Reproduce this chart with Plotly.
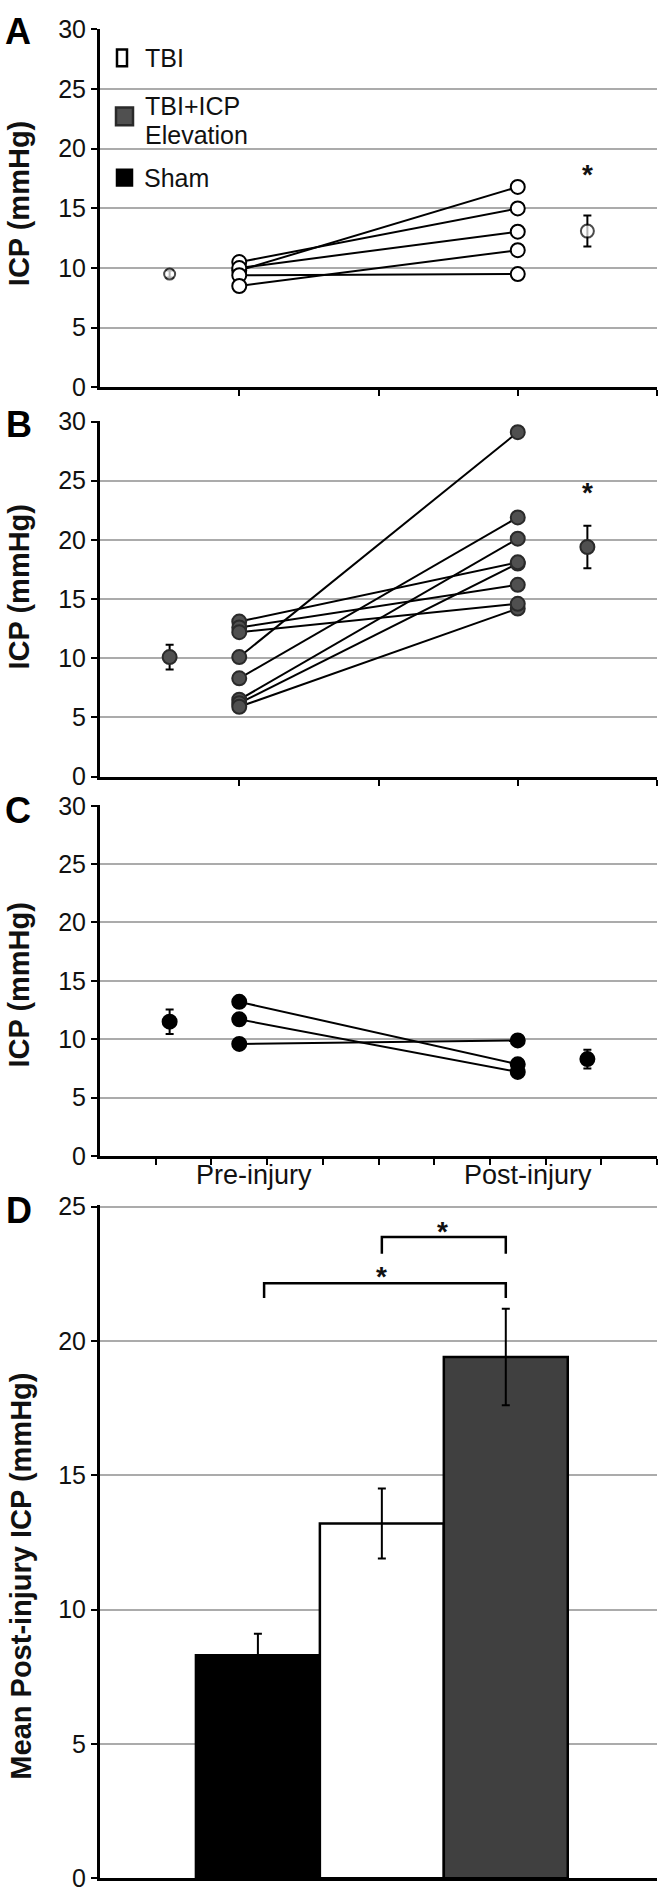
import plotly.graph_objects as go

W, H = 662, 1902
FONT = "Liberation Sans, Arial, Helvetica, sans-serif"

# ---------------- data ----------------
# Panel A : TBI (individual animals, pre -> post injury)
a_pre = [9.8, 10.5, 10.0, 9.4, 8.5]
a_post = [16.8, 15.0, 13.05, 9.5, 11.5]
a_mean = [9.5, 13.1]          # group means (pre, post)
a_sem = [0.3, 1.3]

# Panel B : TBI + ICP elevation
b_pre = [10.1, 8.3, 6.5, 6.2, 5.9, 13.1, 12.6, 12.2]
b_post = [29.1, 21.9, 20.1, 18.0, 14.2, 18.1, 16.2, 14.6]
b_mean = [10.1, 19.4]
b_sem = [1.05, 1.8]

# Panel C : Sham
c_pre = [13.2, 11.7, 9.6]
c_post = [7.85, 7.2, 9.9]
c_mean = [11.5, 8.3]
c_sem = [1.05, 0.8]

# Panel D : mean post-injury ICP
d_groups = ["Sham", "TBI", "TBI+ICP Elevation"]
d_mean = [8.3, 13.2, 19.4]
d_sem = [0.8, 1.3, 1.8]

x_labels = ["Pre-injury", "Post-injury"]
legend_labels = ["TBI", "TBI+ICP", "Elevation", "Sham"]

# ---------------- geometry / style ----------------
PRE_X, POST_X = 1, 3
MEAN_X = [0.5, 3.5]
X0, X1 = 100, 657
panels_px = {"A": (15, 379), "B": (413, 774), "C": (803, 1159), "D": (1209, 1892)}

GRAY_B = "#505050"
GRAY_D = "#404040"
GRID = "#ababab"


def ydom(top, bot):
    return [1 - bot / H, 1 - top / H]


def px(x):
    return x / W


def py(y):
    return 1 - y / H


fig = go.Figure()


def add_panel(idx, pre, post, mean, sem, fill, edge, msize=14):
    xa = "x" if idx == 1 else f"x{idx}"
    ya = "y" if idx == 1 else f"y{idx}"
    lx, ly = [], []
    for p, q in zip(pre, post):
        lx += [PRE_X, POST_X, None]
        ly += [p, q, None]
    fig.add_trace(go.Scatter(x=lx, y=ly, mode="lines", xaxis=xa, yaxis=ya,
                             line=dict(color="black", width=2), showlegend=False,
                             hoverinfo="skip"))
    fig.add_trace(go.Scatter(x=[PRE_X] * len(pre) + [POST_X] * len(post), y=list(pre) + list(post),
                             mode="markers", xaxis=xa, yaxis=ya, showlegend=False,
                             marker=dict(symbol="circle", size=msize, color=fill,
                                         line=dict(color=edge, width=2))))
    fig.add_trace(go.Scatter(x=MEAN_X, y=mean, mode="markers", xaxis=xa, yaxis=ya, showlegend=False,
                             error_y=dict(type="data", array=sem, color="black", thickness=2, width=4),
                             marker=dict(symbol="circle", size=[11, 13] if fill == "white" else 14,
                                         color=fill, line=dict(color=edge, width=2))))


add_panel(1, a_pre, a_post, a_mean, a_sem, "white", "black")
add_panel(2, b_pre, b_post, b_mean, b_sem, GRAY_B, "#2a2a2a")
add_panel(3, c_pre, c_post, c_mean, c_sem, "black", "black")

fig.add_trace(go.Bar(x=[1, 2, 3], y=d_mean, width=1, xaxis="x4", yaxis="y4", showlegend=False,
                     text=d_groups, textposition="none", hoverinfo="text+y",
                     marker=dict(color=["black", "white", GRAY_D], line=dict(color="black", width=2.5)),
                     error_y=dict(type="data", array=d_sem, color="black", thickness=2, width=4)))

tickfont = dict(family=FONT, size=25, color="#111")
common_y = dict(showgrid=True, gridcolor=GRID, gridwidth=2, zeroline=False, showline=True,
                linecolor="black", linewidth=3, ticks="outside", ticklen=6, tickwidth=2,
                tickcolor="black", tickfont=tickfont, dtick=5, fixedrange=True)
common_x = dict(showgrid=False, zeroline=False, showline=True, linecolor="black", linewidth=3,
                ticks="outside", ticklen=6, tickwidth=2, tickcolor="black", showticklabels=False,
                fixedrange=True)

layout = dict(width=W, height=H, autosize=False, margin=dict(l=0, r=0, t=0, b=0),
              paper_bgcolor="white", plot_bgcolor="white", showlegend=False,
              font=dict(family=FONT, color="#111"))
for i, key in enumerate(["A", "B", "C", "D"], start=1):
    top, bot = panels_px[key]
    xn = "xaxis" if i == 1 else f"xaxis{i}"
    yn = "yaxis" if i == 1 else f"yaxis{i}"
    ya_anchor = "x" if i == 1 else f"x{i}"
    xa_anchor = "y" if i == 1 else f"y{i}"
    xd = dict(common_x, domain=[px(X0), px(X1)], anchor=xa_anchor)
    yd = dict(common_y, domain=ydom(top, bot), anchor=ya_anchor)
    if key == "D":
        xd.update(range=[-0.274, 4.22], ticks="")
        yd.update(range=[0, 25.05], tickvals=[0, 5, 10, 15, 20, 25])
    else:
        xd.update(range=[0, 4])
        yd.update(range=[0, 30.05], tickvals=[0, 5, 10, 15, 20, 25, 30])
        if key == "C":
            xd.update(tickvals=[0.4 * k for k in range(1, 11)])
        else:
            xd.update(tickvals=[1, 2, 3, 4])
    layout[xn] = xd
    layout[yn] = yd
fig.update_layout(**layout)

ann = []
# panel letters
for key, (xx, yy) in {"A": (18, 18), "B": (19, 417), "C": (18, 808), "D": (19, 1214)}.items():
    ann.append(dict(text=f"<b>{key}</b>", x=px(xx), y=py(yy), xref="paper", yref="paper",
                    showarrow=False, xanchor="center", yanchor="middle",
                    font=dict(family=FONT, size=36, color="black")))
# y titles
for txt, (xx, yy) in [("ICP (mmHg)", (19, 193)), ("ICP (mmHg)", (19, 582)),
                      ("ICP (mmHg)", (19, 986)), ("Mean Post-injury ICP (mmHg)", (21, 1586))]:
    ann.append(dict(text=f"<b>{txt}</b>", x=px(xx), y=py(yy), xref="paper", yref="paper",
                    showarrow=False, textangle=-90, xanchor="center", yanchor="middle",
                    font=dict(family=FONT, size=29, color="#111")))
# legend text (inside panel A)
for txt, (xx, yy) in zip(legend_labels, [(143, 45), (143, 93), (143, 123), (142, 166)]):
    ann.append(dict(text=txt, x=px(xx), y=py(yy), xref="paper", yref="paper", showarrow=False,
                    xanchor="left", yanchor="middle", font=dict(family=FONT, size=25, color="#111")))
# x labels for panel C
for txt, xv in zip(x_labels, [1.107, 3.07]):
    ann.append(dict(text=txt, x=xv, y=py(1178), xref="x3", yref="paper", showarrow=False,
                    xanchor="center", yanchor="middle", font=dict(family=FONT, size=27, color="#111")))
# significance asterisks
for xr, yr, xv, yv in [("x", "y", 3.5, 18.3), ("x2", "y2", 3.5, 24.4),
                       ("x4", "y4", 2.49, 24.27), ("x4", "y4", 2.0, 22.58)]:
    ann.append(dict(text="<b>*</b>", x=xv, y=yv, xref=xr, yref=yr, showarrow=False, xanchor="center",
                    yanchor="middle", yshift=-5, font=dict(family=FONT, size=28, color="#111")))
fig.update_layout(annotations=ann)

shapes = []
# legend squares
for (x0, x1, y0, y1), col, lc in [((117, 127, 36, 53), "white", "black"),
                                  ((116, 133, 95, 113), GRAY_B, "#2a2a2a"),
                                  ((117, 132, 158, 174), "black", "black")]:
    shapes.append(dict(type="rect", xref="paper", yref="paper", x0=px(x0), x1=px(x1),
                       y0=py(y1), y1=py(y0), fillcolor=col, line=dict(color=lc, width=2.5)))
# significance brackets in D
for xa, xb, ytop, ydrop in [(2.0, 3.0, 23.87, 23.24), (1.05, 3.0, 22.14, 21.6)]:
    shapes.append(dict(type="path", xref="x4", yref="y4",
                       path=f"M {xa},{ydrop} L {xa},{ytop} L {xb},{ytop} L {xb},{ydrop}",
                       line=dict(color="black", width=2.5)))
fig.update_layout(shapes=shapes)

fig.write_html("out.html", config={"displayModeBar": False},
               post_script="document.body.style.margin='0';document.body.style.padding='0';")
